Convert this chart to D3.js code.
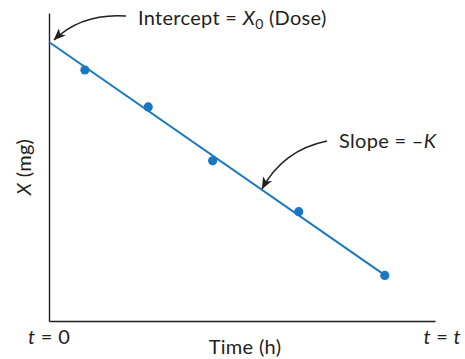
<!DOCTYPE html>
<html>
<head>
<meta charset="utf-8">
<script src="https://cdn.jsdelivr.net/npm/d3@7"></script>
<style>
  html, body { margin: 0; padding: 0; background: #fff; }
  svg { display: block; }
  text { font-family: Lato, "Open Sans", sans-serif; fill: #231f20; letter-spacing: 0.3px; }
</style>
</head>
<body>
<svg id="chart" width="465" height="359"></svg>
<script>
// Amount of drug in the body (mg) measured over time (h)
const times = [0.93, 2.57, 4.24, 6.47, 8.70];
const amounts = [81.5, 69.5, 52.0, 35.5, 14.8];

// Fitted first-order line: X = X0 - K * t
const intercept = 90.6;   // X0 (dose)
const slopeK = 8.7;
const lineTimes = [0, 8.70];

const xDomain = [0, 10];
const yDomain = [0, 100];
const xEndLabels = ["t = 0", "t = t"];

const svg = d3.select("#chart");
const x = d3.scaleLinear().domain(xDomain).range([49, 435]);
const y = d3.scaleLinear().domain(yDomain).range([321, 13]);

const blue = "#1a78c2";
const ink = "#231f20";
const fs = 20;

// Axes: plain lines with no ticks
const xAxis = svg.append("g").attr("transform", `translate(0,${y(0)})`)
  .call(d3.axisBottom(x).tickValues([]).tickSizeOuter(0));
const yAxis = svg.append("g").attr("transform", `translate(${x(0)},0)`)
  .call(d3.axisLeft(y).tickValues([]).tickSizeOuter(0));
[xAxis, yAxis].forEach(a => a.select(".domain")
  .attr("stroke", ink).attr("stroke-width", 1.4));

// Fitted line
const lineGen = d3.line().x(d => x(d)).y(d => y(intercept - slopeK * d));
svg.append("path").datum(lineTimes)
  .attr("d", lineGen)
  .attr("fill", "none").attr("stroke", blue).attr("stroke-width", 2);

// Observed points
svg.selectAll("circle.pt").data(times).join("circle")
  .attr("class", "pt")
  .attr("cx", d => x(d))
  .attr("cy", (d, i) => y(amounts[i]))
  .attr("r", 4.6)
  .attr("fill", blue);

// Arrowhead marker
svg.append("defs").append("marker")
  .attr("id", "arrow")
  .attr("viewBox", "0 0 12 10")
  .attr("refX", 11.5).attr("refY", 5)
  .attr("markerWidth", 12).attr("markerHeight", 10)
  .attr("markerUnits", "userSpaceOnUse")
  .attr("orient", "auto")
  .append("path").attr("d", "M0,0 L12,5 L0,10 L3,5 Z").attr("fill", ink);

// Intercept callout
const ix = x(0) + 5, iy = y(intercept) - 2;
svg.append("path")
  .attr("d", `M126,16 Q82,13 ${ix},${iy}`)
  .attr("fill", "none").attr("stroke", ink).attr("stroke-width", 1.4)
  .attr("marker-end", "url(#arrow)");

const t1 = svg.append("text").attr("x", 138).attr("y", 25).attr("font-size", fs);
t1.append("tspan").text("Intercept = ");
t1.append("tspan").attr("font-style", "italic").text("X");
t1.append("tspan").attr("font-size", 14).attr("dy", 4).text("0");
t1.append("tspan").attr("dy", -4).text(" (Dose)");

// Slope callout
const sT = 5.52;
const sx = x(sT), sy = y(intercept - slopeK * sT) - 1;
svg.append("path")
  .attr("d", `M327,141 Q283,150 ${sx},${sy}`)
  .attr("fill", "none").attr("stroke", ink).attr("stroke-width", 1.4)
  .attr("marker-end", "url(#arrow)");

const t2 = svg.append("text").attr("x", 339).attr("y", 148).attr("font-size", fs);
t2.append("tspan").text("Slope = \u2013");
t2.append("tspan").attr("font-style", "italic").text("K");

// Axis end labels
function endLabel(str, xPos, anchor) {
  const parts = str.split(" = ");
  const t = svg.append("text").attr("x", xPos).attr("y", 344)
    .attr("font-size", fs).attr("text-anchor", anchor);
  t.append("tspan").attr("font-style", "italic").text(parts[0]);
  const v = parts[1];
  if (v === "t") {
    t.append("tspan").text(" = ");
    t.append("tspan").attr("font-style", "italic").text(v);
  } else {
    t.append("tspan").text(" = " + v);
  }
}
endLabel(xEndLabels[0], 28, "start");
endLabel(xEndLabels[1], 461, "end");

// Axis titles
svg.append("text").attr("x", 245).attr("y", 354)
  .attr("font-size", fs).attr("text-anchor", "middle").text("Time (h)");

const yt = svg.append("text")
  .attr("transform", "translate(31,167) rotate(-90)")
  .attr("font-size", fs).attr("text-anchor", "middle");
yt.append("tspan").attr("font-style", "italic").text("X");
yt.append("tspan").text(" (mg)");
</script>
</body>
</html>
